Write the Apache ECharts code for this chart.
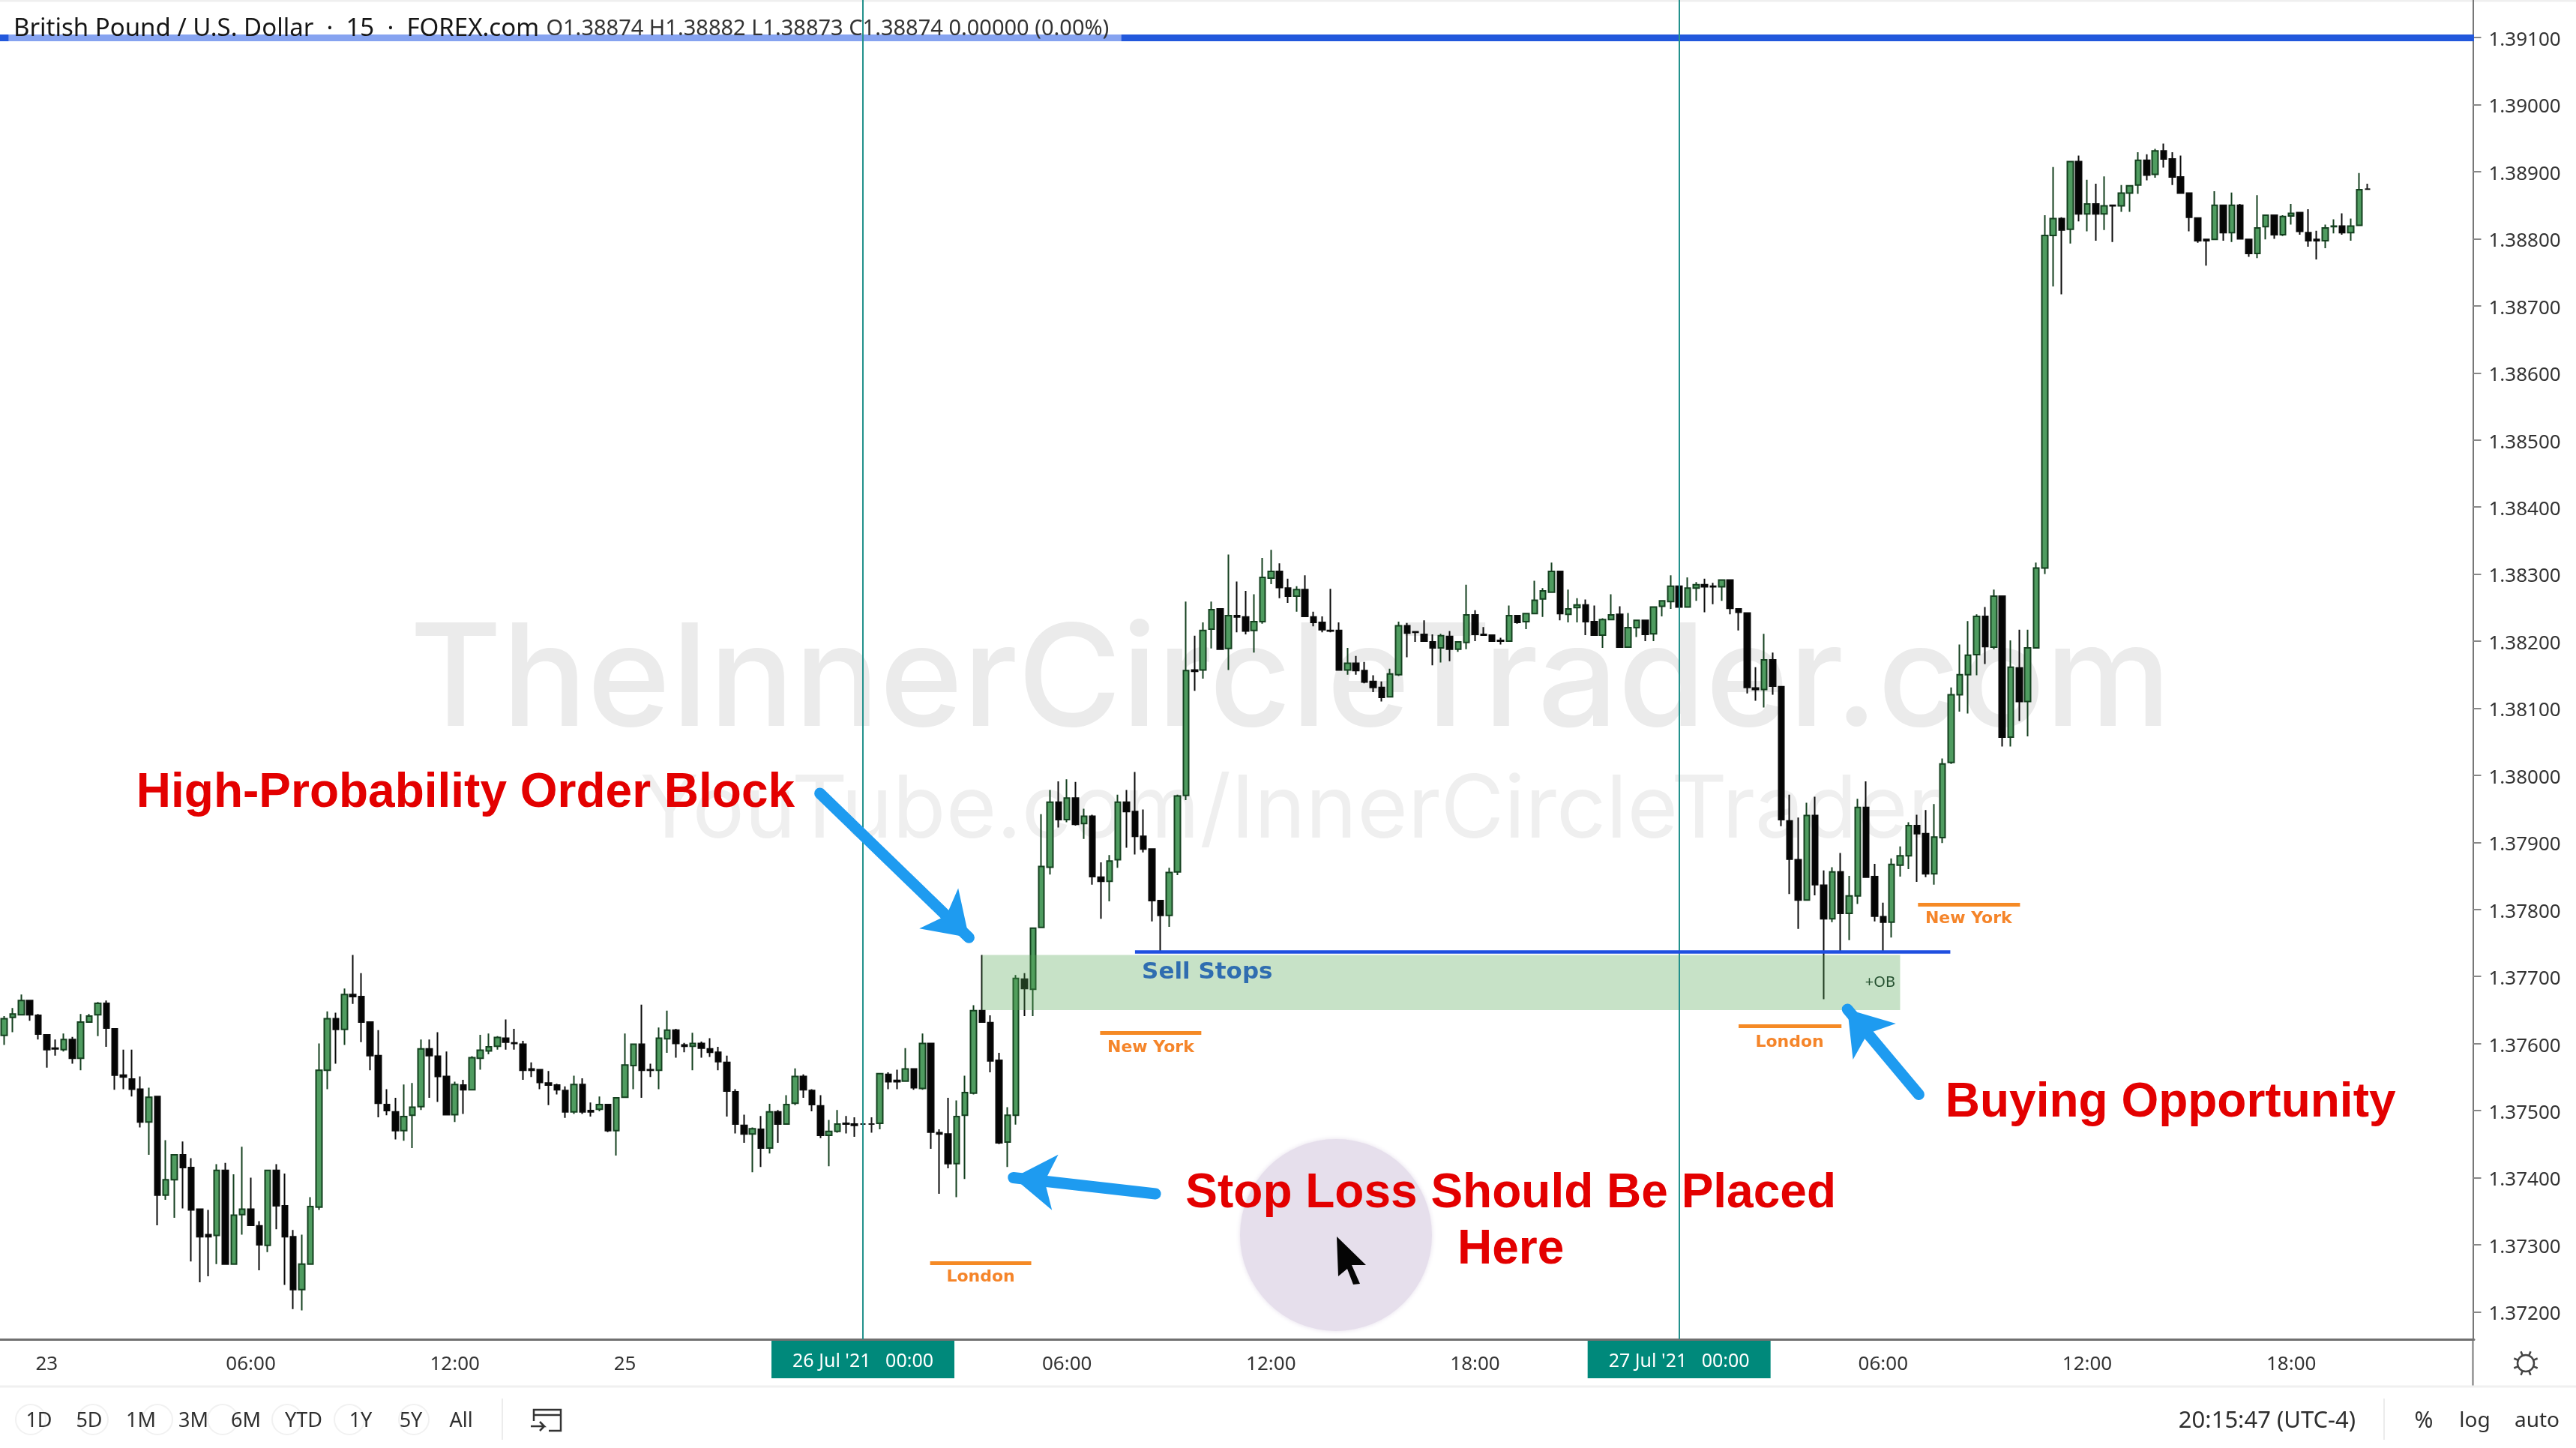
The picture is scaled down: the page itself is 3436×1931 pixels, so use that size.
<!DOCTYPE html>
<html>
<head>
<meta charset="utf-8">
<title>GBP/USD 15</title>
<script src="https://cdn.jsdelivr.net/npm/echarts@6/dist/echarts.min.js"></script>
<style>
  html, body { margin: 0; padding: 0; background: #fff; }
  #chart { width: 3436px; height: 1931px; }
</style>
</head>
<body>
<div id="chart"></div>
<script>
// prices are in points (1 point = 0.00001)
const opens = [
137612,137639,137643,137664,137642,137613,137593,137591,137606,137578,
137632,137643,137660,137622,137553,137547,137532,137483,137521,137374,
137397,137434,137415,137353,137315,137314,137411,137271,137345,137353,
137328,137299,137411,137358,137312,137233,137271,137356,137560,137637,
137621,137673,137670,137632,137582,137509,137498,137470,137493,137506,
137592,137581,137551,137494,137538,137531,137578,137589,137596,137608,
137601,137599,137562,137561,137541,137538,137530,137498,137539,137500,
137502,137509,137470,137520,137567,137599,137561,137560,137607,137620,
137598,137596,137600,137592,137587,137572,137528,137478,137465,137472,
137444,137498,137480,137511,137551,137530,137507,137463,137469,137481,
137480,137480,137480,137481,137554,137545,137544,137562,137533,137600,
137467,137465,137421,137493,137526,137649,137631,137575,137453,137493,
137696,137681,137773,137863,137960,137934,137966,137928,137939,137848,
137842,137874,137960,137946,137909,137890,137813,137791,137856,137970,
138157,138157,138218,138248,138189,138238,138236,138216,138229,138294,
138304,138279,138267,138277,138236,138228,138216,138216,138157,138167,
138156,138140,138131,138117,138150,138223,138214,138210,138199,138190,
138207,138188,138198,138239,138210,138209,138201,138200,138238,138229,
138241,138263,138273,138304,138240,138250,138254,138229,138209,138232,
138240,138191,138220,138231,138211,138252,138259,138282,138251,138279,
138284,138282,138281,138291,138248,138242,138130,138128,138172,138132,
137932,137874,137814,137940,137836,137786,137856,137794,137820,137952,
137849,137789,137781,137866,137880,137925,137913,137853,137907,138019,
138120,138150,138180,138237,138191,138267,138057,138160,138110,138190,
138309,138805,138830,138814,138915,138837,138852,138837,138850,138849,
138868,138880,138917,138896,138931,138919,138892,138868,138831,138799,
138799,138850,138809,138850,138799,138778,138818,138835,138806,138834,
138839,138809,138799,138797,138818,138819,138809,138820,138874
];
const closes = [
137637,137644,137664,137643,137614,137591,137592,137606,137578,137632,
137641,137660,137623,137553,137550,137532,137483,137520,137374,137397,
137434,137415,137352,137312,137312,137411,137271,137344,137353,137329,
137300,137411,137358,137312,137233,137271,137357,137560,137637,137621,
137673,137670,137632,137582,137511,137500,137470,137491,137505,137592,
137582,137551,137494,137539,137531,137579,137590,137595,137609,137602,
137600,137560,137560,137542,137538,137531,137498,137539,137498,137498,
137509,137470,137519,137568,137599,137560,137560,137608,137620,137600,
137596,137600,137593,137587,137573,137529,137480,137465,137473,137444,
137498,137480,137509,137551,137531,137509,137463,137469,137480,137480,
137478,137480,137480,137555,137543,137543,137562,137534,137600,137468,
137465,137421,137491,137527,137649,137632,137574,137452,137493,137697,
137682,137772,137864,137960,137934,137966,137927,137939,137849,137842,
137872,137960,137946,137909,137890,137813,137791,137855,137969,138156,
138155,138216,138247,138188,138238,138236,138215,138229,138295,138304,
138280,138267,138277,138237,138228,138217,138215,138157,138167,138156,
138139,138131,138116,138151,138223,138212,138213,138200,138190,138208,
138188,138199,138239,138210,138209,138200,138200,138238,138228,138241,
138261,138275,138304,138241,138248,138254,138229,138209,138232,138239,
138191,138220,138231,138210,138251,138260,138282,138251,138279,138284,
138281,138281,138291,138249,138243,138131,138128,138172,138133,137934,
137875,137814,137940,137837,137786,137856,137794,137820,137952,137848,
137790,137781,137867,137880,137925,137913,137853,137908,138017,138120,
138150,138179,138237,138192,138267,138057,138161,138110,138190,138309,
138805,138830,138813,138915,138837,138852,138837,138849,138849,138868,
138879,138917,138895,138931,138919,138892,138868,138832,138797,138797,
138850,138809,138850,138800,138778,138816,138835,138806,138833,138838,
138811,138797,138797,138816,138819,138809,138819,138873,138874
];
const highs = [
137641,137653,137673,137664,137644,137614,137606,137615,137610,137644,
137644,137662,137664,137622,137591,137591,137551,137534,137521,137456,
137434,137454,137429,137353,137352,137420,137422,137405,137446,137400,
137335,137411,137420,137406,137322,137315,137371,137600,137648,137646,
137682,137732,137705,137633,137620,137532,137519,137539,137541,137606,
137606,137617,137588,137543,137546,137581,137613,137615,137611,137636,
137622,137604,137572,137562,137559,137540,137536,137552,137548,137512,
137521,137509,137519,137615,137600,137658,137570,137624,137649,137622,
137601,137616,137603,137608,137595,137582,137532,137494,137475,137492,
137510,137501,137523,137563,137554,137532,137523,137486,137501,137492,
137490,137480,137490,137555,137557,137561,137593,137562,137615,137600,
137472,137519,137515,137552,137657,137732,137642,137586,137505,137702,
137705,137773,137942,137978,137991,137994,137990,137950,137941,137870,
137881,137971,137978,138005,137949,137890,137814,137862,137971,138259,
138208,138228,138259,138249,138329,138289,138275,138270,138324,138336,
138316,138293,138282,138298,138244,138237,138278,138228,138190,138178,
138169,138149,138140,138159,138229,138227,138215,138231,138210,138211,
138215,138200,138284,138246,138221,138210,138205,138253,138239,138241,
138290,138279,138317,138305,138277,138264,138262,138253,138234,138270,
138252,138242,138232,138231,138252,138261,138298,138282,138295,138288,
138293,138287,138291,138291,138248,138243,138161,138211,138183,138132,
137971,137937,137959,137968,137858,137863,137884,137850,137965,137991,
137868,137810,137876,137894,137930,137941,137948,137957,138025,138131,
138195,138230,138240,138251,138277,138268,138201,138217,138217,138317,
138835,138907,138832,138916,138924,138888,138882,138893,138850,138880,
138880,138929,138926,138934,138942,138929,138924,138868,138831,138799,
138871,138851,138869,138852,138799,138865,138836,138835,138835,138852,
138840,138844,138812,138821,138829,138838,138830,138898,138882
];
const lows = [
137598,137617,137643,137634,137606,137564,137582,137588,137570,137560,
137631,137611,137595,137531,137532,137521,137475,137434,137329,137367,
137340,137354,137275,137244,137253,137271,137271,137270,137315,137329,
137262,137289,137323,137240,137204,137202,137271,137352,137532,137570,
137598,137659,137602,137560,137490,137493,137457,137455,137444,137501,
137519,137513,137494,137483,137495,137531,137561,137584,137591,137591,
137591,137546,137550,137532,137508,137524,137489,137495,137495,137491,
137499,137468,137433,137520,137532,137519,137550,137532,137586,137579,
137587,137560,137579,137580,137560,137491,137466,137452,137408,137416,
137436,137452,137480,137508,137519,137499,137459,137417,137467,137466,
137461,137479,137467,137472,137532,137532,137543,137531,137531,137443,
137376,137414,137371,137398,137524,137632,137557,137450,137416,137479,
137641,137641,137773,137852,137922,137930,137925,137905,137837,137786,
137812,137862,137892,137882,137885,137782,137738,137774,137851,137963,
138126,138144,138189,138188,138157,138213,138210,138183,138226,138285,
138264,138257,138244,138236,138222,138213,138213,138157,138150,138150,
138137,138124,138110,138117,138148,138176,138199,138200,138164,138168,
138170,138184,138188,138200,138209,138199,138195,138199,138226,138218,
138240,138236,138272,138231,138228,138228,138209,138209,138190,138232,
138191,138191,138206,138200,138200,138237,138248,138251,138250,138260,
138243,138255,138260,138240,138216,138122,138111,138101,138120,137924,
137823,137771,137814,137821,137666,137781,137737,137754,137808,137848,
137782,137737,137758,137849,137860,137841,137848,137837,137899,138017,
138095,138092,138149,138166,138188,138043,138043,138081,138058,138190,
138300,138729,138717,138793,138826,138811,138797,138813,138795,138840,
138840,138867,138887,138891,138906,138880,138867,138811,138794,138760,
138799,138797,138795,138800,138773,138771,138799,138800,138804,138821,
138806,138788,138769,138786,138808,138806,138797,138820,138873
];

const priceTicks = [1.372,1.373,1.374,1.375,1.376,1.377,1.378,1.379,1.380,1.381,1.382,1.383,1.384,1.385,1.386,1.387,1.388,1.389,1.390,1.391];
const tickBars = [5,29,53,73,101,125,149,173,197,221,245,269];
const tickTexts = ['23','06:00','12:00','25',"26 Jul '21   00:00",'06:00','12:00','18:00',"27 Jul '21   00:00",'06:00','12:00','18:00'];
const dayBars = [101,197];
const lastTitle = 'O1.38874 H1.38882 L1.38873 C1.38874 0.00000 (0.00%)';

// annotations: bar position (fractional), price in points
const orderBlock = { from: 115.47, to: 223.5, top: 137732, bottom: 137650 };
const topLinePrice = 139100;
const sellStops = { from: 133.5, to: 229.4, price: 137737 };
const sessionLines = [[109.4,121.3,137273],[129.4,141.3,137616],[204.5,216.6,137626],[225.6,237.6,137807]];
const sessionNotes = [['London',115.35,137251],['New York',135.35,137594],['London',210.5,137602],['New York',231.55,137786]];
const redNotes = [
  ['High-Probability Order Block',54.76,137973],
  ['Stop Loss Should Be Placed',177.7,137376],
  ['Here',177.7,137292],
  ['Buying Opportunity',255.3,137511]
];
const arrows = [
  [96.44,137973,113.97,137758],
  [135.9,137376,119.2,137400],
  [225.7,137524,217.3,137651]
];

const slotCount = 291;
const P = v => v / 100000;
const candles = opens.map((o, i) => [P(o), P(closes[i]), P(lows[i]), P(highs[i])]);
const categories = [];
for (let i = 0; i < slotCount; i++) {
    const t = tickBars.indexOf(i);
    categories.push(t >= 0 ? tickTexts[t] : '');
}

const uiFont = '"Noto Sans", sans-serif';
const boldFont = '"DejaVu Sans", sans-serif';
const redFont = '"Liberation Sans", Arial, sans-serif';
const isTick = index => tickBars.indexOf(index) >= 0;

function noteItem(text, bar, price, label) {
    return {
        coord: [bar, P(price)],
        symbol: 'circle',
        symbolSize: 1,
        itemStyle: { color: 'rgba(0,0,0,0)' },
        label: Object.assign({ show: true, position: 'inside', formatter: text }, label)
    };
}
function flatLine(from, to, price, color, width) {
    return [
        { coord: [from, P(price)], symbol: 'none', lineStyle: { color: color, width: width, type: 'solid', cap: 'butt' } },
        { coord: [to, P(price)], symbol: 'none' }
    ];
}

const markLines = [];
markLines.push(flatLine(0, slotCount, topLinePrice, '#2258dc', 9));
markLines.push(flatLine(1, 131.9, topLinePrice, '#86a3f0', 9));
dayBars.forEach(b => markLines.push([
    { coord: [b + 0.5, 1.37159], symbol: 'none', lineStyle: { color: '#23918c', width: 2, type: 'solid' } },
    { coord: [b + 0.5, 1.39156], symbol: 'none' }
]));
markLines.push(flatLine(sellStops.from, sellStops.to, sellStops.price, '#1f4fe0', 4.5));
sessionLines.forEach(s => markLines.push(flatLine(s[0], s[1], s[2], '#f58a25', 5)));
arrows.forEach(a => markLines.push([
    { coord: [a[0], P(a[1])], symbol: 'none', lineStyle: { color: '#1e9bf0', width: 15, type: 'solid', cap: 'round' } },
    { coord: [a[2], P(a[3])], symbol: 'arrow', symbolSize: [56, 56] }
]));

const markPoints = [];
sessionNotes.forEach(n => markPoints.push(noteItem(n[0], n[1], n[2], {
    color: '#f5852a', fontFamily: boldFont, fontWeight: 'bold', fontSize: 22
})));
redNotes.forEach(n => markPoints.push(noteItem(n[0], n[1], n[2], {
    color: '#e30000', fontFamily: redFont, fontWeight: 'bold', fontSize: 64
})));
markPoints.push(noteItem('Sell Stops', 142.0, 137706, {
    color: '#2f6db0', fontFamily: boldFont, fontWeight: 'bold', fontSize: 31
}));
markPoints.push(noteItem('+OB', 221.15, 137691, {
    color: '#24502f', fontFamily: uiFont, fontSize: 20
}));

const graphics = [
    { type: 'text', z: -5, style: { text: 'TheInnerCircleTrader.com', x: 1721, y: 911, align: 'center', verticalAlign: 'middle',
        font: '500 189px Inter, sans-serif', fill: '#ebebeb', shadowBlur: 24, shadowColor: '#e6e6e6' } },
    { type: 'text', z: -5, style: { text: 'YouTube.com/InnerCircleTrader', x: 1721, y: 1082, align: 'center', verticalAlign: 'middle',
        font: '400 116px Inter, sans-serif', fill: '#efefef', shadowBlur: 16, shadowColor: '#ebebeb' } },
    { type: 'circle', z: -4, shape: { cx: 1782, cy: 1647, r: 128 }, style: { fill: '#e6dfec', shadowBlur: 6, shadowColor: '#e6dfec' } },
    { type: 'polygon', z: 20, shape: { points: [[1783,1649],[1785,1702],[1797,1692],[1805,1713],[1814,1712],[1803,1687],[1822,1687]] }, style: { fill: '#050505' } },
    { type: 'line', shape: { x1: 3298.5, y1: 1786, x2: 3298.5, y2: 1850 }, style: { stroke: '#777', lineWidth: 2 } },
    { type: 'line', shape: { x1: 0, y1: 1849, x2: 3436, y2: 1849 }, style: { stroke: '#f0f0f0', lineWidth: 3 } },
    { type: 'line', shape: { x1: 0, y1: 1, x2: 3436, y2: 1 }, style: { stroke: '#efefef', lineWidth: 3 } },
    { type: 'line', shape: { x1: 670, y1: 1865, x2: 670, y2: 1920 }, style: { stroke: '#ececec', lineWidth: 2 } },
    { type: 'line', shape: { x1: 3180, y1: 1865, x2: 3180, y2: 1920 }, style: { stroke: '#ececec', lineWidth: 2 } }
];
// faint rings behind the range buttons
[41,124,210,297,383,466,552].forEach(cx => graphics.push({
    type: 'circle', shape: { cx: cx, cy: 1893, r: 20 }, style: { fill: 'none', stroke: '#f1f1f1', lineWidth: 2 }
}));
[['1D',52,27],['5D',119,27],['1M',188,27],['3M',258,27],['6M',328,27],['YTD',405,27],['1Y',481,27],['5Y',548,27],['All',615,27],
 ['20:15:47 (UTC-4)',3024,31],['%',3233,30],['log',3301,28],['auto',3384,28]].forEach(t => graphics.push({
    type: 'text', style: { text: t[0], x: t[1], y: 1895, align: 'center', verticalAlign: 'middle', font: t[2] + 'px ' + uiFont, fill: '#2f2f2f' }
}));
// calendar icon
graphics.push({ type: 'polyline', shape: { points: [[712,1895],[712,1880],[748,1880],[748,1908],[732,1908]] }, style: { fill: 'none', stroke: '#333', lineWidth: 2.5 } });
graphics.push({ type: 'line', shape: { x1: 712, y1: 1887, x2: 748, y2: 1887 }, style: { stroke: '#333', lineWidth: 2.5 } });
graphics.push({ type: 'polyline', shape: { points: [[708,1902],[726,1902],[720,1896],[726,1902],[720,1908]] }, style: { fill: 'none', stroke: '#333', lineWidth: 2.5 } });
// settings gear
graphics.push({ type: 'circle', shape: { cx: 3369, cy: 1818, r: 11 }, style: { fill: 'none', stroke: '#444', lineWidth: 2.5 } });
for (let a = 0; a < 8; a++) {
    const r = a * Math.PI / 4 + Math.PI / 8;
    graphics.push({ type: 'line', shape: {
        x1: 3369 + 11 * Math.cos(r), y1: 1818 + 11 * Math.sin(r),
        x2: 3369 + 17 * Math.cos(r), y2: 1818 + 17 * Math.sin(r)
    }, style: { stroke: '#444', lineWidth: 2.5 } });
}

const chart = echarts.init(document.getElementById('chart'), null, { renderer: 'canvas' });
chart.setOption({
    animation: false,
    backgroundColor: '#ffffff',
    textStyle: { fontFamily: uiFont },
    title: {
        left: 10,
        top: 19,
        padding: [0, 8, 0, 8],
        text: '{a|British Pound / U.S. Dollar  ·  15  ·  FOREX.com}  {b|' + lastTitle + '}',
        textStyle: {
            fontWeight: 'normal',
            rich: {
                a: { fontFamily: uiFont, fontSize: 33, fontWeight: 'normal', color: '#161616', lineHeight: 40 },
                b: { fontFamily: uiFont, fontSize: 29, fontWeight: 'normal', color: '#333', lineHeight: 40 }
            }
        }
    },
    grid: { left: -4.03, width: 3304, top: 0, height: 1786 },
    xAxis: [{
        type: 'category',
        data: categories,
        axisLine: { onZero: false, lineStyle: { color: '#707070', width: 3 } },
        axisTick: { interval: isTick, alignWithLabel: true, length: 11, lineStyle: { color: '#888', width: 2 } },
        axisLabel: {
            interval: isTick,
            margin: 34,
            verticalAlign: 'middle',
            color: '#333',
            fontSize: 26,
            fontFamily: uiFont,
            formatter: v => v.indexOf('Jul') >= 0 ? '{box|' + v + '}\n{gap| }' : v,
            rich: {
                box: { color: '#fff', fontSize: 25, fontFamily: uiFont, backgroundColor: '#00897b', width: 244, height: 44, padding: [6, 0, 0, 0], align: 'center', lineHeight: 44 },
                gap: { fontSize: 1, height: 14, lineHeight: 14 }
            }
        },
        splitLine: { show: false }
    }, {
        type: 'value',
        min: 0,
        max: slotCount,
        show: false,
        position: 'bottom'
    }],
    yAxis: {
        type: 'value',
        position: 'right',
        offset: -1.5,
        min: 1.37159,
        max: 1.39156,
        scale: true,
        splitLine: { show: false },
        axisLine: { show: true, onZero: false, lineStyle: { color: '#777', width: 2 } },
        axisTick: { show: true, customValues: priceTicks, length: 11, lineStyle: { color: '#888', width: 2 } },
        axisLabel: {
            customValues: priceTicks,
            margin: 21,
            verticalAlign: 'top',
            lineHeight: 7,
            color: '#333',
            fontSize: 26,
            fontFamily: uiFont,
            formatter: v => Number(v).toFixed(5)
        }
    },
    graphic: { elements: graphics },
    series: [{
        type: 'candlestick',
        z: 2,
        silent: true,
        barWidth: 8,
        data: candles,
        itemStyle: {
            color: '#4f9c60',
            color0: '#050505',
            borderColor: '#14401f',
            borderColor0: '#0a0a0a',
            borderColorDoji: '#1a1a1a',
            borderWidth: 2
        }
    }, {
        type: 'line',
        xAxisIndex: 1,
        yAxisIndex: 0,
        z: 3,
        silent: true,
        data: [],
        markArea: {
            silent: true,
            z: 4,
            data: [[
                { coord: [orderBlock.from, P(orderBlock.top)], itemStyle: { color: 'rgba(86,168,86,0.33)' } },
                { coord: [orderBlock.to, P(orderBlock.bottom)] }
            ]]
        },
        markLine: { silent: true, animation: false, precision: 6, label: { show: false }, data: markLines },
        markPoint: { silent: true, animation: false, data: markPoints }
    }]
});
</script>
</body>
</html>
